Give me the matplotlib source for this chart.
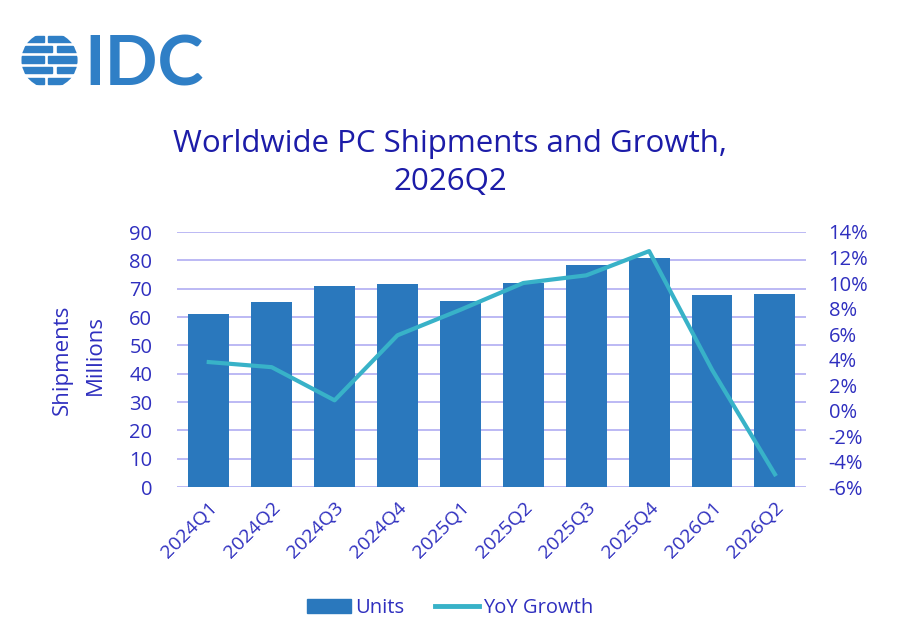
import matplotlib.pyplot as plt
from matplotlib.patches import Circle, Rectangle
from matplotlib.lines import Line2D
from matplotlib.ticker import FuncFormatter

plt.rcParams["font.family"] = ["Open Sans", "DejaVu Sans"]

# Data
quarters = ["2024Q1", "2024Q2", "2024Q3", "2024Q4", "2025Q1",
            "2025Q2", "2025Q3", "2025Q4", "2026Q1", "2026Q2"]
units = [61.1, 65.4, 71.1, 71.5, 65.8, 72.0, 78.4, 80.7, 67.6, 68.1]
yoy_growth = [3.8, 3.4, 0.8, 5.9, 7.9, 10.0, 10.6, 12.5, 3.2, -5.0]

bar_color = "#2a78bd"
line_color = "#38b2c8"
text_color = "#2f2fbf"
title_color = "#1c1ca8"
grid_color = "#b0adf2"

fig = plt.figure(figsize=(9, 6.4), dpi=100)
ax = fig.add_axes([0.197, 0.239, 0.699, 0.3985])

x = list(range(len(quarters)))
ax.bar(x, units, width=0.65, color=bar_color, zorder=2, label="Units")
ax.set_ylim(0, 90)
ax.set_yticks(range(0, 91, 10))
ax.set_xlim(-0.5, len(quarters) - 0.5)
ax.set_xticks(x)
ax.set_xticklabels(quarters, rotation=45, ha="right", rotation_mode="anchor",
                   fontsize=14, color=text_color)
ax.grid(axis="y", color=grid_color, linewidth=1.2, zorder=0)
ax.set_axisbelow(True)
for s in ax.spines.values():
    s.set_visible(False)
ax.tick_params(axis="both", length=0, labelsize=14.5, labelcolor=text_color)
ax.tick_params(axis="x", pad=8, labelsize=14)
ax.tick_params(axis="y", pad=18)

ax2 = ax.twinx()
ax2.plot(x, yoy_growth, color=line_color, linewidth=3, zorder=3,
         label="YoY Growth")
ax2.set_ylim(-6, 14)
ax2.set_yticks(range(-6, 15, 2))
ax2.yaxis.set_major_formatter(FuncFormatter(lambda v, p: f"{v:.0f}%"))
for s in ax2.spines.values():
    s.set_visible(False)
ax2.tick_params(axis="y", length=0, labelsize=14.5, labelcolor=text_color, pad=16)

# Axis title (two lines, rotated)
fig.text(0.069, 0.4375, "Shipments", rotation=90, ha="center", va="center",
         fontsize=16, color=text_color)
fig.text(0.106, 0.445, "Millions", rotation=90, ha="center", va="center",
         fontsize=16, color=text_color)

# Title
fig.text(0.5, 0.746, "Worldwide PC Shipments and Growth,\n2026Q2", ha="center",
         va="center", fontsize=22.5, color=title_color, linespacing=1.35)

# Legend
handles = [Rectangle((0, 0), 1, 1, color=bar_color),
           Line2D([0], [0], color=line_color, linewidth=3.5)]
fig.legend(handles, ["Units", "YoY Growth"], loc="center",
           bbox_to_anchor=(0.5, 0.05), ncol=2, frameon=False, fontsize=14.5,
           labelcolor=text_color, handlelength=2.2, handletextpad=0.2,
           columnspacing=1.5)

# IDC logo
logo_color = "#2f7fc6"
lax = fig.add_axes([0.006, 0.86, 0.098, 0.092])
lax.set_xlim(-1, 1)
lax.set_ylim(-1, 1)
lax.set_aspect("equal")
lax.axis("off")
clip = Circle((0, 0), 0.95, transform=lax.transData)
stripes = [(0.62, 0.2), (0.28, 0.2), (-0.08, 0.22), (-0.44, 0.2), (-0.8, 0.2)]
for i, (yb, h) in enumerate(stripes):
    for xs, w in [(-1.0, 1.1 if i % 2 else 0.8), (0.25 if i % 2 else -0.05, 1.0)]:
        r = Rectangle((xs, yb), w, h, color=logo_color)
        r.set_clip_path(clip)
        lax.add_patch(r)
fig.text(0.094, 0.897, "IDC", ha="left", va="center", fontsize=50,
         fontweight="bold", color=logo_color, family=["Lato", "DejaVu Sans"])

fig.savefig("out.png", dpi=100, facecolor="white")
